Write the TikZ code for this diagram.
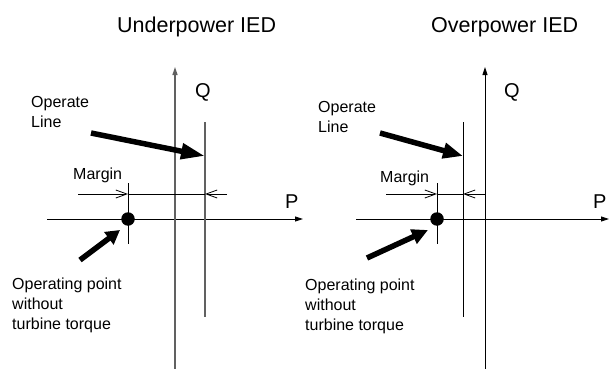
\documentclass[tikz,border=0pt]{standalone}
\usepackage{fontspec}
\setmainfont{Liberation Sans}
\usetikzlibrary{arrows.meta}
\begin{document}
\begin{tikzpicture}[x=1pt,y=-1pt,
  axis/.style={line width=0.9pt,-{Triangle[length=8pt,width=5pt]}},
  grayaxis/.style={axis,draw=black!62,line width=1.3pt},
  thin/.style={line width=0.9pt},
  grayline/.style={draw=black!62,line width=1.3pt},
  barb/.style={line width=0.8pt,-{Straight Barb[length=11pt,width=8pt,line width=0.8pt]}},
  fat/.style={line width=5.5pt,-{Triangle[length=24pt,width=15pt]}},
  fatshort/.style={line width=5.5pt,-{Triangle[length=14pt,width=15pt]}},
  lbl/.style={inner sep=0pt,font=\fontsize{16}{20}\selectfont,align=left,anchor=north west},
  big/.style={inner sep=0pt,font=\fontsize{21.5}{24}\selectfont,anchor=base west},
  axl/.style={inner sep=0pt,font=\fontsize{20}{24}\selectfont,anchor=base west},
  dot/.style={circle,fill=black,inner sep=0pt,minimum size=13.5pt}]
\useasboundingbox (0,0) rectangle (610,369);

% ---------- left panel ----------
\node[big] (t1) at (117,33) {Underpower IED};
\coordinate (pl1) at (47,219);
\coordinate (pr1) at (303,219);
\coordinate (qb1) at (175,369);
\coordinate (qt1) at (175,67);
\draw[axis] (pl1) -- (pr1);
\draw[grayaxis] (qb1) -- (qt1);
\node[axl] (Q1) at (195,97) {Q};
\node[axl] (P1) at (285,208) {P};
\coordinate (ot1) at (205,122);
\coordinate (ob1) at (205,317);
\draw[grayline] (ot1) -- (ob1);
\coordinate (vt1) at (128,183);
\coordinate (vb1) at (128,244);
\draw[thin] (vt1) -- (vb1);
\node[dot] (d1) at (128,219) {};
\coordinate (ml1) at (78,194);
\coordinate (ma1) at (128,194);
\coordinate (mb1) at (205,194);
\coordinate (mr1) at (227,194);
\draw[thin] (ma1) -- (mb1);
\draw[barb] (ml1) -- (ma1);
\draw[barb] (mr1) -- (mb1);
\node[lbl] (m1) at (73,168) {Margin};
\node[lbl] (ol1) at (31,96) {Operate\\Line};
\coordinate (oa1) at (91,133);
\coordinate (oh1) at (205,156);
\draw[fat] (oa1) -- (oh1);
\node[lbl] (op1) at (12,278) {Operating point\\without\\turbine torque};
\coordinate (pa1) at (80,260);
\coordinate (ph1) at (120,230);
\draw[fatshort] (pa1) -- (ph1);

% ---------- right panel ----------
\node[big] (t2) at (431,33) {Overpower IED};
\coordinate (pl2) at (356,219);
\coordinate (pr2) at (609,219);
\coordinate (qb2) at (485,369);
\coordinate (qt2) at (485,67);
\draw[axis] (pl2) -- (pr2);
\draw[axis] (qb2) -- (qt2);
\node[axl] (Q2) at (504,97) {Q};
\node[axl] (P2) at (593,208) {P};
\coordinate (ot2) at (463,122);
\coordinate (ob2) at (463,317);
\draw[thin] (ot2) -- (ob2);
\coordinate (vt2) at (437,183);
\coordinate (vb2) at (437,244);
\draw[thin] (vt2) -- (vb2);
\node[dot] (d2) at (437,219) {};
\coordinate (ml2) at (386,194);
\coordinate (ma2) at (437,194);
\coordinate (mb2) at (463,194);
\coordinate (mr2) at (485,194);
\draw[thin] (ma2) -- (mb2);
\draw[barb] (ml2) -- (ma2);
\draw[barb] (mr2) -- (mb2);
\node[lbl] (m2) at (380,171) {Margin};
\node[lbl] (ol2) at (318,101) {Operate\\Line};
\coordinate (oa2) at (380,133);
\coordinate (oh2) at (463,156);
\draw[fat,-{Triangle[length=20pt,width=15pt]}] (oa2) -- (oh2);
\node[lbl] (op2) at (305,279) {Operating point\\without\\turbine torque};
\coordinate (pa2) at (367,258);
\coordinate (ph2) at (428,230);
\draw[fatshort,-{Triangle[length=16pt,width=15pt]}] (pa2) -- (ph2);
\end{tikzpicture}
\end{document}
